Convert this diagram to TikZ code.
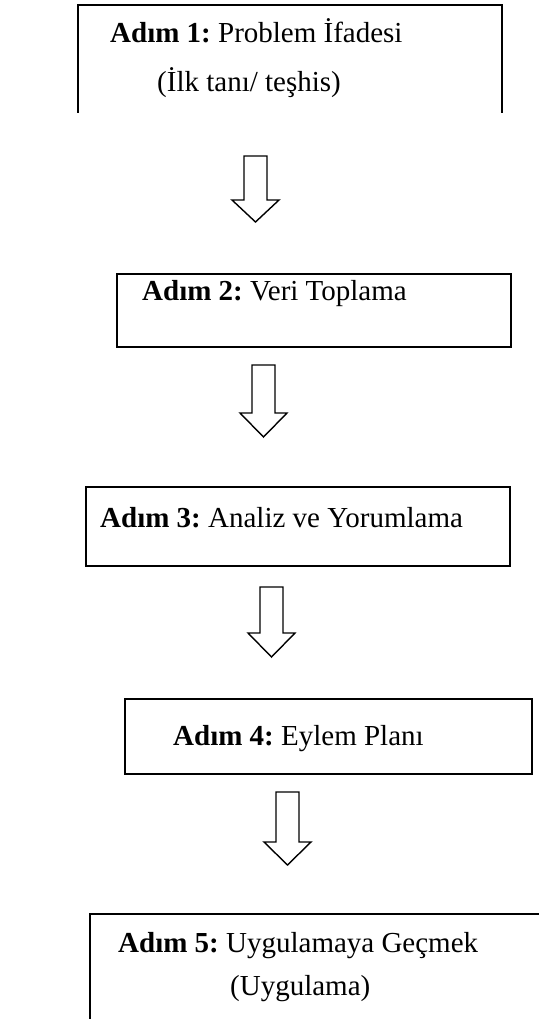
\documentclass[tikz,border=0pt]{standalone}
\usepackage{fontspec}
\setmainfont{Liberation Serif}
\usetikzlibrary{positioning, calc}

\tikzset{
  stepbox/.style={line width=2pt},
  steptext/.style={font=\fontsize{29}{34}\selectfont, inner sep=0pt, anchor=base west},
  blockarrow/.style={line width=1.4pt, line join=miter}
}

% hollow arrow pointing down: #1 = top centre, #2 = shaft length, #3 = head length
\newcommand{\hollowdown}[3]{%
  \draw[blockarrow] (#1) ++(-11.5,0) -- ++(0,#2) -- ++(-12,0) -- ++(23.5,#3)
    -- ++(23.5,-#3) -- ++(-12,0) -- ++(0,-#2) -- cycle;}

\frenchspacing
\begin{document}
\begin{tikzpicture}[x=1pt, y=-1pt]
  \useasboundingbox (0,0) rectangle (539,1019);

  % Step 1 (bottom cut off)
  \draw[stepbox] (78,113) -- (78,5) -- (502,5) -- (502,113);
  \node[steptext] (s1a) at (110,43) {\textbf{Adım 1:} Problem İfadesi};
  \node[steptext] (s1b) at (157,92) {(İlk tanı/ teşhis)};

  % Step 2
  \draw[stepbox] (117,274) rectangle (511,347);
  \node[steptext] (s2) at (142,300) {\textbf{Adım 2:} Veri Toplama};

  % Step 3
  \draw[stepbox] (86,487) rectangle (510,566);
  \node[steptext] (s3) at (100,527) {\textbf{Adım 3:} Analiz ve Yorumlama};

  % Step 4
  \draw[stepbox] (125,699) rectangle (532,774);
  \node[steptext] (s4) at (173,745) {\textbf{Adım 4:} Eylem Planı};

  % Step 5 (bottom cut off)
  \draw[stepbox] (90,1019) -- (90,914) -- (539,914);
  \node[steptext] (s5a) at (118,952) {\textbf{Adım 5:} Uygulamaya Geçmek};
  \node[steptext] (s5b) at (230,995) {(Uygulama)};

  % Arrows
  \coordinate (a1) at (255.5,156);
  \coordinate (a2) at (263.5,365);
  \coordinate (a3) at (271.5,587);
  \coordinate (a4) at (287.5,792);
  \hollowdown{a1}{44}{22}
  \hollowdown{a2}{48}{24}
  \hollowdown{a3}{46}{24}
  \hollowdown{a4}{50}{23}
\end{tikzpicture}
\end{document}
